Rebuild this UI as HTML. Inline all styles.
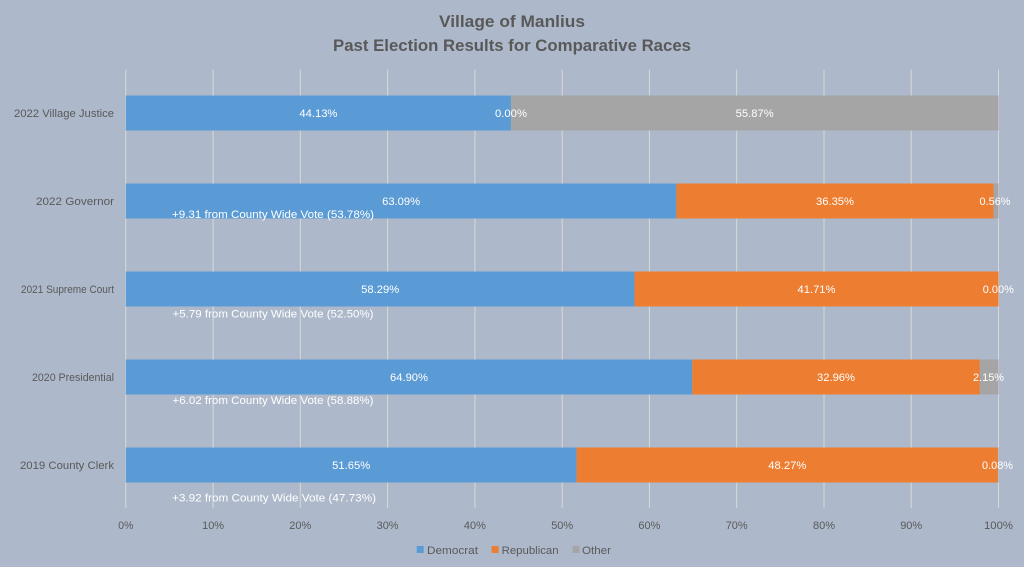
<!DOCTYPE html>
<html>
<head>
<meta charset="utf-8">
<style>
  html,body{margin:0;padding:0;background:#ffffff;}
  svg{display:block;}
  text{font-family:"Liberation Sans",sans-serif;}
</style>
</head>
<body>
<svg width="1024" height="576" viewBox="0 0 1024 576" xmlns="http://www.w3.org/2000/svg">
  <rect x="0" y="0" width="1024" height="576" fill="#ffffff"/>
  <rect x="0" y="0" width="1024" height="567" fill="#adb9ca"/>

  <!-- Title -->
  <text x="512" y="27" font-size="16.5" font-weight="bold" fill="#595959" text-anchor="middle" textLength="146" lengthAdjust="spacingAndGlyphs">Village of Manlius</text>
  <text x="512" y="51" font-size="16.5" font-weight="bold" fill="#595959" text-anchor="middle" textLength="358" lengthAdjust="spacingAndGlyphs">Past Election Results for Comparative Races</text>

  <!-- Gridlines -->
  <g stroke="#d9d9d9" stroke-width="1">
    <line x1="125.8" y1="69.5" x2="125.8" y2="508"/>
    <line x1="213.1" y1="69.5" x2="213.1" y2="508"/>
    <line x1="300.3" y1="69.5" x2="300.3" y2="508"/>
    <line x1="387.6" y1="69.5" x2="387.6" y2="508"/>
    <line x1="474.9" y1="69.5" x2="474.9" y2="508"/>
    <line x1="562.2" y1="69.5" x2="562.2" y2="508"/>
    <line x1="649.4" y1="69.5" x2="649.4" y2="508"/>
    <line x1="736.7" y1="69.5" x2="736.7" y2="508"/>
    <line x1="824.0" y1="69.5" x2="824.0" y2="508"/>
    <line x1="911.2" y1="69.5" x2="911.2" y2="508"/>
    <line x1="998.5" y1="69.5" x2="998.5" y2="508"/>
  </g>

  <!-- Bars -->
  <!-- 2022 Village Justice -->
  <rect x="125.8" y="95.5" width="385.1" height="35" fill="#5b9bd5"/>
  <rect x="510.9" y="95.5" width="487.6" height="35" fill="#a5a5a5"/>
  <!-- 2022 Governor -->
  <rect x="125.8" y="183.5" width="550.6" height="35" fill="#5b9bd5"/>
  <rect x="676.4" y="183.5" width="317.2" height="35" fill="#ed7d31"/>
  <rect x="993.6" y="183.5" width="4.9" height="35" fill="#a5a5a5"/>
  <!-- 2021 Supreme Court -->
  <rect x="125.8" y="271.5" width="508.7" height="35" fill="#5b9bd5"/>
  <rect x="634.5" y="271.5" width="364.0" height="35" fill="#ed7d31"/>
  <!-- 2020 Presidential -->
  <rect x="125.8" y="359.5" width="566.4" height="35" fill="#5b9bd5"/>
  <rect x="692.2" y="359.5" width="287.6" height="35" fill="#ed7d31"/>
  <rect x="979.8" y="359.5" width="18.7" height="35" fill="#a5a5a5"/>
  <!-- 2019 County Clerk -->
  <rect x="125.8" y="447.5" width="450.8" height="35" fill="#5b9bd5"/>
  <rect x="576.6" y="447.5" width="421.3" height="35" fill="#ed7d31"/>
  <rect x="997.9" y="447.5" width="0.7" height="35" fill="#a5a5a5"/>

  <!-- Category labels -->
  <g font-size="11" fill="#595959" text-anchor="end">
    <text x="114" y="117" textLength="100" lengthAdjust="spacingAndGlyphs">2022 Village Justice</text>
    <text x="114" y="205" textLength="78" lengthAdjust="spacingAndGlyphs">2022 Governor</text>
    <text x="114" y="293" textLength="93" lengthAdjust="spacingAndGlyphs">2021 Supreme Court</text>
    <text x="114" y="381" textLength="82" lengthAdjust="spacingAndGlyphs">2020 Presidential</text>
    <text x="114" y="469" textLength="94" lengthAdjust="spacingAndGlyphs">2019 County Clerk</text>
  </g>

  <!-- Data labels -->
  <g font-size="11" fill="#ffffff" text-anchor="middle">
    <text x="318.4" y="117" textLength="38" lengthAdjust="spacingAndGlyphs">44.13%</text>
    <text x="511" y="117" textLength="32" lengthAdjust="spacingAndGlyphs">0.00%</text>
    <text x="754.7" y="117" textLength="38" lengthAdjust="spacingAndGlyphs">55.87%</text>

    <text x="401.1" y="205" textLength="38" lengthAdjust="spacingAndGlyphs">63.09%</text>
    <text x="835" y="205" textLength="38" lengthAdjust="spacingAndGlyphs">36.35%</text>
    <text x="995" y="205" textLength="31" lengthAdjust="spacingAndGlyphs">0.56%</text>

    <text x="380.2" y="293" textLength="38" lengthAdjust="spacingAndGlyphs">58.29%</text>
    <text x="816.5" y="293" textLength="38" lengthAdjust="spacingAndGlyphs">41.71%</text>
    <text x="998.3" y="293" textLength="31" lengthAdjust="spacingAndGlyphs">0.00%</text>

    <text x="409" y="381" textLength="38" lengthAdjust="spacingAndGlyphs">64.90%</text>
    <text x="836" y="381" textLength="38" lengthAdjust="spacingAndGlyphs">32.96%</text>
    <text x="988.5" y="381" textLength="31" lengthAdjust="spacingAndGlyphs">2.15%</text>

    <text x="351.2" y="469" textLength="38" lengthAdjust="spacingAndGlyphs">51.65%</text>
    <text x="787.3" y="469" textLength="38" lengthAdjust="spacingAndGlyphs">48.27%</text>
    <text x="997.5" y="469" textLength="31" lengthAdjust="spacingAndGlyphs">0.08%</text>
  </g>

  <!-- Annotations -->
  <g font-size="11" fill="#ffffff">
    <text x="172" y="218" textLength="202" lengthAdjust="spacingAndGlyphs">+9.31 from County Wide Vote (53.78%)</text>
    <text x="172.5" y="317.5" textLength="201" lengthAdjust="spacingAndGlyphs">+5.79 from County Wide Vote (52.50%)</text>
    <text x="172.5" y="404" textLength="201" lengthAdjust="spacingAndGlyphs">+6.02 from County Wide Vote (58.88%)</text>
    <text x="172" y="501.5" textLength="204" lengthAdjust="spacingAndGlyphs">+3.92 from County Wide Vote (47.73%)</text>
  </g>

  <!-- X axis labels -->
  <g font-size="11" fill="#595959" text-anchor="middle">
    <text x="125.8" y="529" textLength="15" lengthAdjust="spacingAndGlyphs">0%</text>
    <text x="213.1" y="529" textLength="22" lengthAdjust="spacingAndGlyphs">10%</text>
    <text x="300.3" y="529" textLength="22" lengthAdjust="spacingAndGlyphs">20%</text>
    <text x="387.6" y="529" textLength="22" lengthAdjust="spacingAndGlyphs">30%</text>
    <text x="474.9" y="529" textLength="22" lengthAdjust="spacingAndGlyphs">40%</text>
    <text x="562.2" y="529" textLength="22" lengthAdjust="spacingAndGlyphs">50%</text>
    <text x="649.4" y="529" textLength="22" lengthAdjust="spacingAndGlyphs">60%</text>
    <text x="736.7" y="529" textLength="22" lengthAdjust="spacingAndGlyphs">70%</text>
    <text x="824.0" y="529" textLength="22" lengthAdjust="spacingAndGlyphs">80%</text>
    <text x="911.2" y="529" textLength="22" lengthAdjust="spacingAndGlyphs">90%</text>
    <text x="998.5" y="529" textLength="29" lengthAdjust="spacingAndGlyphs">100%</text>
  </g>

  <!-- Legend -->
  <rect x="416.7" y="546" width="7" height="7" fill="#5b9bd5"/>
  <text x="427" y="554" font-size="11" fill="#595959" textLength="51" lengthAdjust="spacingAndGlyphs">Democrat</text>
  <rect x="491.6" y="546" width="7" height="7" fill="#ed7d31"/>
  <text x="501.6" y="554" font-size="11" fill="#595959" textLength="57" lengthAdjust="spacingAndGlyphs">Republican</text>
  <rect x="572.5" y="546" width="7" height="7" fill="#a5a5a5"/>
  <text x="582" y="554" font-size="11" fill="#595959" textLength="29" lengthAdjust="spacingAndGlyphs">Other</text>
</svg>
</body>
</html>
